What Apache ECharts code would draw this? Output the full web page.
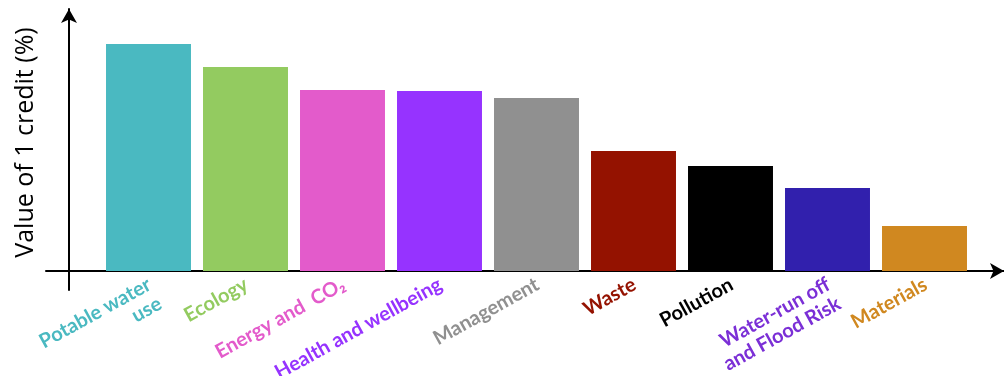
<!DOCTYPE html>
<html><head><meta charset="utf-8">
<script src="https://cdn.jsdelivr.net/npm/echarts@6/dist/echarts.min.js"></script>
<style>html,body{margin:0;padding:0;background:#fff}#c{width:1004px;height:376px}</style>
</head><body><div id="c"></div>
<script>
const categories = ['Potable water\nuse', 'Ecology', 'Energy and  CO\u2082', 'Health and wellbeing', 'Management', 'Waste', 'Pollution', 'Water-run off\nand Flood Risk', 'Materials'];
const values = [2.27, 2.04, 1.81, 1.80, 1.73, 1.20, 1.05, 0.83, 0.45];
const barColors = ['#4ab9c1', '#93cb60', '#e35bcb', '#9633ff', '#909090', '#941200', '#000000', '#3120ad', '#d08820'];
const labelColors = ['#4ab9c1', '#93cb60', '#e35bcb', '#9633ff', '#909090', '#941200', '#000000', '#7b2fd6', '#d08820'];
const yTitle = 'Value of 1 credit (%)';

const chart = echarts.init(document.getElementById('c'));
chart.setOption({
  animation: false,
  grid: [
    {left: 100, width: 873, top: 9, bottom: 105, outerBoundsMode: 'none', containLabel: false},
    {left: 46, right: 0, top: 9, bottom: 86, outerBoundsMode: 'none', containLabel: false}
  ],
  xAxis: [
    {type: 'category', gridIndex: 0, data: categories,
     axisLine: {show: false}, axisTick: {show: false},
     axisLabel: {interval: 0, rotate: 29, margin: 0, fontFamily: 'Lato', fontWeight: 'bold', fontSize: 20, lineHeight: 22, align: 'right', verticalAlign: 'top', padding: [0, 5, 0, 0],
       color: function (v, i) { return labelColors[i]; }}},
    {type: 'value', gridIndex: 1, min: -23, max: 935, splitLine: {show: false}, axisTick: {show: false}, axisLabel: {show: false},
     axisLine: {show: true, onZero: true, lineStyle: {color: '#000', width: 2}, symbol: ['none', 'arrow'], symbolSize: [12, 14]}}
  ],
  yAxis: [
    {type: 'value', gridIndex: 0, min: 0, max: 2.62, show: false},
    {type: 'value', gridIndex: 1, min: -19, max: 262, splitLine: {show: false}, axisTick: {show: false}, axisLabel: {show: false},
     axisLine: {show: true, onZero: true, lineStyle: {color: '#000', width: 2}, symbol: ['none', 'arrow'], symbolSize: [12, 14]},
     name: yTitle, nameLocation: 'middle', nameGap: 8, nameRotate: 90,
     nameTextStyle: {fontFamily: 'Open Sans', fontSize: 25, color: '#000', padding: [0, 0, 0, 14]}}
  ],
  series: [{
    type: 'bar', xAxisIndex: 0, yAxisIndex: 0, data: values,
    barCategoryGap: '12.4%',
    itemStyle: {color: function (p) { return barColors[p.dataIndex]; }}
  }]
});
</script></body></html>
